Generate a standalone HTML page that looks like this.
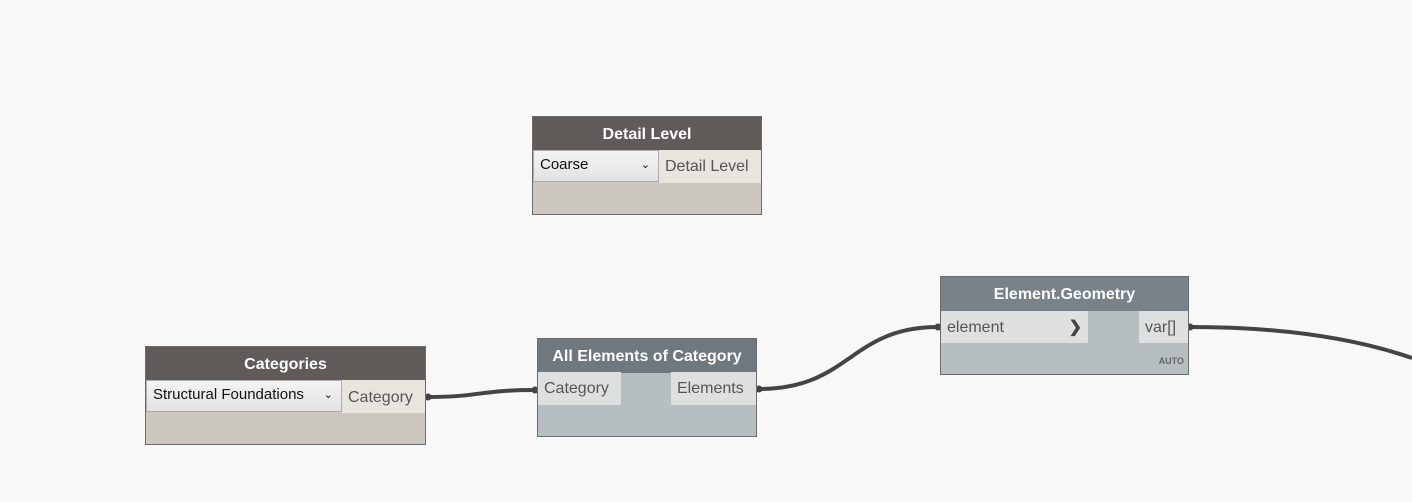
<!DOCTYPE html>
<html><head><style>
body{margin:0;width:1412px;height:502px;background:#f8f8f8;position:relative;overflow:hidden;font-family:"Liberation Sans",sans-serif}
.n{position:absolute;border:1px solid #6b6b6b;box-sizing:border-box}
.h{position:absolute;left:0;right:0;top:0;height:34px;color:#fff;font-weight:bold;font-size:16px;text-align:center;line-height:35px}
.a{position:absolute;box-sizing:border-box;font-size:16px;color:#555;line-height:34px;padding:0 6px}
.dd{position:absolute;box-sizing:border-box;background:linear-gradient(#f4f4f4,#e2e2e2);border:1px solid #acacac;font-size:15px;color:#111;line-height:28px;padding-left:6px}
.dd span{position:absolute;right:8px;top:0;font-size:11px}
</style></head><body>
<svg width="1412" height="502" style="position:absolute;left:0;top:0">
<g fill="none" stroke="#444" stroke-width="4">
<path d="M428 397 C480 397 480 390 535 390"/>
<path d="M759 389 C850 389 850 327 938 327"/>
<path d="M1190 327 C1290 327 1360 340 1412 358"/>
</g>
<g fill="#444"><circle cx="428" cy="397" r="3.5"/><circle cx="535" cy="390" r="3.5"/><circle cx="759" cy="389" r="3.5"/><circle cx="938" cy="327" r="3.5"/><circle cx="1190" cy="327" r="3.5"/></g>
</svg>

<div class="n" style="left:532px;top:116px;width:230px;height:99px;background:#ccc7bf">
<div class="h" style="background:#5e5b58">Detail Level</div>
<div class="dd" style="left:0;top:33px;width:126px;height:32px">Coarse<span>&#8964;</span></div>
<div class="a" style="left:126px;top:33px;width:102px;height:33px;background:#e8e4de">Detail Level</div>
</div>

<div class="n" style="left:145px;top:346px;width:281px;height:99px;background:#ccc7bf">
<div class="h" style="background:#5e5b58">Categories</div>
<div class="dd" style="left:0;top:33px;width:196px;height:32px">Structural Foundations<span>&#8964;</span></div>
<div class="a" style="left:196px;top:33px;width:83px;height:33px;background:#e8e4de;line-height:35px">Category</div>
</div>

<div class="n" style="left:537px;top:338px;width:220px;height:99px;background:#b6bec1">
<div class="h" style="background:#6e787e">All Elements of Category</div>
<div class="a" style="left:0;top:33px;width:83px;height:33px;background:#dde0df">Category</div>
<div class="a" style="left:133px;top:33px;width:85px;height:33px;background:#dde0df">Elements</div>
</div>

<div class="n" style="left:940px;top:276px;width:249px;height:99px;background:#b6bec1">
<div class="h" style="background:#78828a">Element.Geometry</div>
<div class="a" style="left:0;top:34px;width:147px;height:32px;background:#dde0df;line-height:33px">element<span style="position:absolute;right:6px;font-weight:bold;color:#444">&#10095;</span></div>
<div class="a" style="left:198px;top:34px;width:49px;height:32px;background:#dde0df;line-height:33px">var[]</div>
<div style="position:absolute;right:4px;bottom:8px;font-size:9px;font-weight:bold;color:#666">AUTO</div>
</div>
</body></html>
